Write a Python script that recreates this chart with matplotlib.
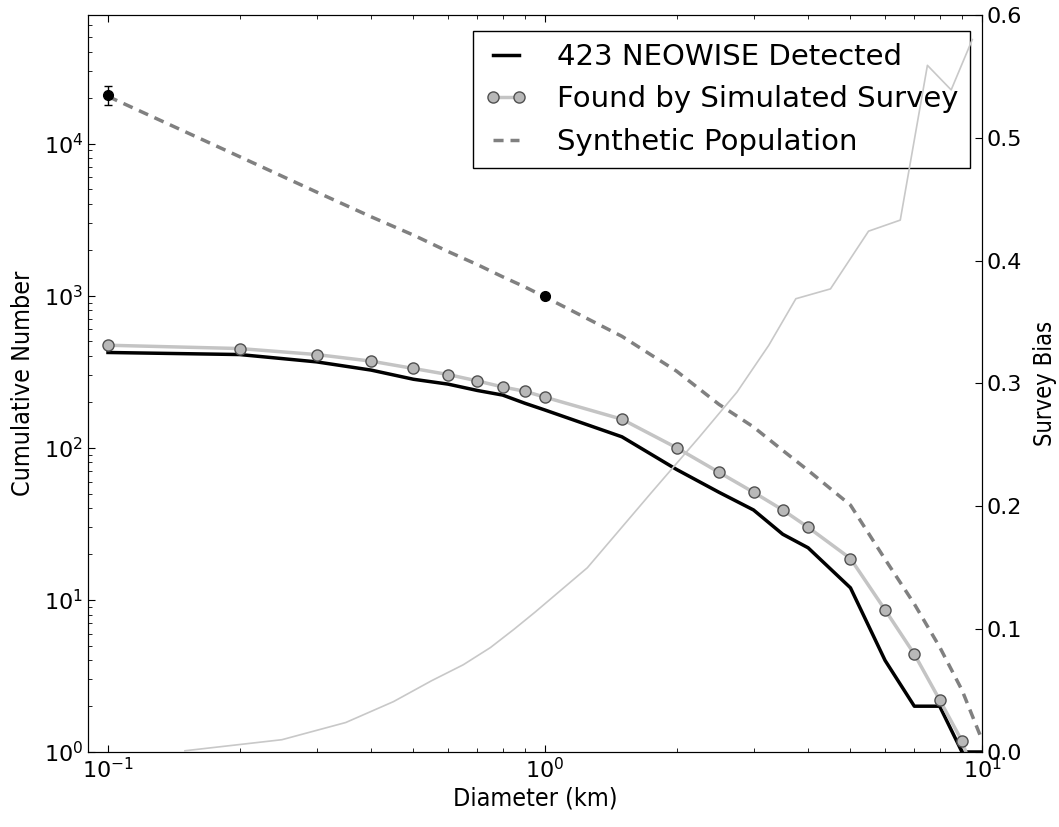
import numpy as np
import matplotlib.pyplot as plt

# diameter grid (km) used by the cumulative curves
diam = [0.1, 0.2, 0.3, 0.4, 0.5, 0.6, 0.7, 0.8, 0.9, 1.0,
        1.5, 2.0, 2.5, 3.0, 3.5, 4.0, 5.0, 6.0, 7.0, 8.0, 9.0, 10.0]
detected = [423, 410, 367, 324, 282, 262, 238, 222, 196, 177,
            118, 72, 51, 39, 27, 22, 12, 4, 2, 2, 1, 1]
found = [472, 449, 410, 371, 332, 303, 275, 251, 235, 215,
         154, 100, 69, 51, 39, 30, 18.7, 8.6, 4.4, 2.2, 1.18, 0.5]
synthetic = [20400, 8200, 4800, 3300, 2500, 1950, 1600, 1330, 1140, 980,
             540, 319, 193, 137, 96, 71, 42, 18.5, 9.4, 4.9, 2.55, 1.2]

# survey bias at bin centres (right axis)
bias_d = [0.15, 0.25, 0.35, 0.45, 0.55, 0.65, 0.75, 0.85, 0.95,
          1.25, 1.75, 2.25, 2.75, 3.25, 3.75, 4.5, 5.5, 6.5, 7.5, 8.5, 9.5]
bias = [0.001, 0.010, 0.024, 0.041, 0.058, 0.071, 0.085, 0.100, 0.114,
        0.150, 0.211, 0.256, 0.293, 0.331, 0.369, 0.377, 0.424, 0.433,
        0.559, 0.539, 0.580]

# observational points
obs_d = [0.1, 1.0]
obs_n = [21000, 1000]
obs_err = [3000, 0]

fig = plt.figure(figsize=(10.59, 8.27), dpi=100)
ax = fig.add_axes([0.0831, 0.0907, 0.8442, 0.8912])

ax.plot(diam, detected, 'k-', lw=2.5, label='423 NEOWISE Detected')
ax.plot(diam, found, '-o', color='#c4c4c4', lw=2.5, mfc='#b8b8b8',
        mec='#505050', mew=1.0, ms=8, label='Found by Simulated Survey')
ax.plot(diam, synthetic, '--', color='#808080', lw=2.5, dashes=(2.9, 2.0),
        label='Synthetic Population')
ax.errorbar(obs_d, obs_n, yerr=obs_err, fmt='o', color='k', ms=7,
            capsize=3, elinewidth=1)

ax.set_xscale('log')
ax.set_yscale('log')
ax.set_xlim(0.09, 10)
ax.set_ylim(1, 7e4)
ax.set_xlabel('Diameter (km)', fontsize=18, fontstretch='condensed',
              labelpad=3)
ax.set_ylabel('Cumulative Number', fontsize=18, fontstretch='condensed',
              labelpad=6)
ax.tick_params(which='both', direction='in', top=True, labelsize=16)
ax.tick_params(which='major', length=5)
ax.tick_params(which='minor', length=3)

leg = ax.legend(loc='upper right', bbox_to_anchor=(0.987, 0.978),
                borderaxespad=0, fancybox=False, framealpha=1,
                edgecolor='k', fontsize=21, numpoints=2, borderpad=0.4,
                handlelength=1.5, handletextpad=1.0, labelspacing=0.5)
leg.get_frame().set_linewidth(1.0)

ax2 = ax.twinx()
ax2.plot(bias_d, bias, color='#c8c8c8', lw=1.2)
ax2.set_ylim(0, 0.6)
ax2.set_yticks([0.0, 0.1, 0.2, 0.3, 0.4, 0.5, 0.6])
ax2.set_ylabel('Survey Bias', fontsize=17, fontstretch='condensed',
               labelpad=8)
ax2.tick_params(direction='in', length=5, labelsize=16)

fig.savefig('out.png', dpi=100)
